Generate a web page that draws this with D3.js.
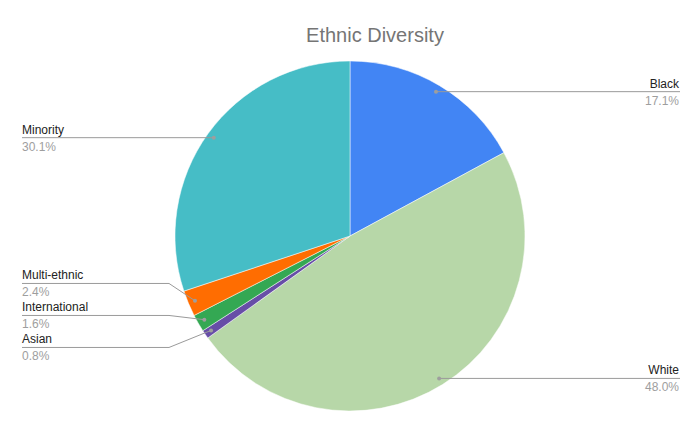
<!DOCTYPE html>
<html>
<head>
<meta charset="utf-8">
<script src="https://cdn.jsdelivr.net/npm/d3@7"></script>
<style>
  body { margin: 0; background: #fff; }
  text { font-family: "Liberation Sans", Arial, sans-serif; }
</style>
</head>
<body>
<script>
var categories = ["Black", "White", "Asian", "International", "Multi-ethnic", "Minority"]
var values = [17.1, 48.0, 0.8, 1.6, 2.4, 30.1]
var colors = ["#4285f4", "#b7d7a8", "#674ea7", "#34a853", "#ff6d01", "#46bdc6"]

var width = 700, height = 433
var cx = 350, cy = 236, radius = 175

var svg = d3.select("body").append("svg")
  .attr("width", width)
  .attr("height", height)

svg.append("text")
  .attr("x", 375).attr("y", 42)
  .attr("text-anchor", "middle")
  .attr("fill", "#757575")
  .style("font-size", "20px")
  .text("Ethnic Diversity")

var data = categories.map(function(c, i) { return { name: c, value: values[i], color: colors[i] } })

var pie = d3.pie().sort(null).value(function(d) { return d.value })
var arcs = pie(data)
var arc = d3.arc().innerRadius(0).outerRadius(radius)
var dotArc = d3.arc().innerRadius(168).outerRadius(168)

var g = svg.append("g").attr("transform", "translate(" + cx + "," + cy + ")")

g.selectAll("path.slice")
  .data(arcs)
  .enter().append("path")
  .attr("class", "slice")
  .attr("d", arc)
  .attr("fill", function(d) { return d.data.color })
  .attr("stroke", "#fff")
  .attr("stroke-width", 0.5)

// label anchors
arcs.forEach(function(d) {
  var c = dotArc.centroid(d)
  d.dot = [c[0] + cx, c[1] + cy]
  d.side = (d.startAngle + d.endAngle) / 2 > Math.PI ? "left" : "right"
  d.ly = d.dot[1]
})

// spread labels that collide on each side
var gap = 32
;["left", "right"].forEach(function(side) {
  var list = arcs.filter(function(d) { return d.side === side })
    .sort(function(a, b) { return a.ly - b.ly })
  var groups = list.map(function(d) { var gr = [d]; gr.pos = d.ly; return gr })
  var merged = true
  while (merged) {
    merged = false
    for (var i = 0; i < groups.length - 1; i++) {
      var a = groups[i], b = groups[i + 1]
      var aEnd = a.pos + (a.length - 1) * gap
      if (b.pos - aEnd < gap) {
        var all = a.concat(b)
        var mean = d3.mean(all, function(d) { return d.dot[1] })
        all.pos = mean - (all.length - 1) * gap / 2 - 1.5
        groups.splice(i, 2, all)
        merged = true
        break
      }
    }
  }
  groups.forEach(function(gr) {
    gr.forEach(function(d, j) { d.ly = gr.length > 1 ? gr.pos + j * gap : d.ly })
  })
})

var labels = svg.append("g")

arcs.forEach(function(d) {
  var pts
  if (d.side === "right") {
    pts = [d.dot, [680, d.ly]]
  } else {
    pts = Math.abs(d.ly - d.dot[1]) > 0.5
      ? [d.dot, [169, d.ly], [22, d.ly]]
      : [d.dot, [22, d.ly]]
  }
  labels.append("path")
    .attr("d", d3.line()(pts))
    .attr("fill", "none")
    .attr("stroke", "#9a9a9a")
    .attr("stroke-width", 1)
  labels.append("circle")
    .attr("cx", d.dot[0]).attr("cy", d.dot[1]).attr("r", 2)
    .attr("fill", "#9e9e9e")

  var tx = d.side === "right" ? 679 : 22
  var anchor = d.side === "right" ? "end" : "start"
  labels.append("text")
    .attr("x", tx).attr("y", d.ly - 4)
    .attr("text-anchor", anchor)
    .attr("fill", "#222")
    .style("font-size", "12px")
    .text(d.data.name)
  labels.append("text")
    .attr("x", tx).attr("y", d.ly + 13)
    .attr("text-anchor", anchor)
    .attr("fill", "#9e9e9e")
    .style("font-size", "12px")
    .text(d.data.value.toFixed(1) + "%")
})
</script>
</body>
</html>
